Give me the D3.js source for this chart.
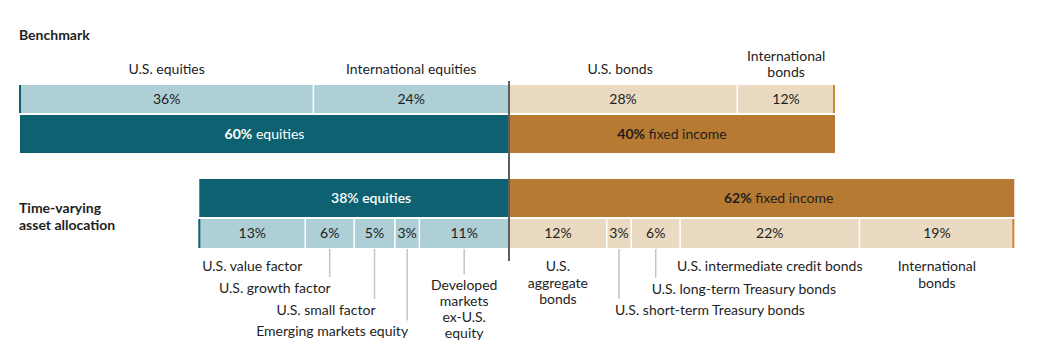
<!DOCTYPE html>
<html>
<head>
<meta charset="utf-8">
<script src="https://cdn.jsdelivr.net/npm/d3@7/dist/d3.min.js"></script>
<style>
  html, body { margin: 0; padding: 0; background: #fff; }
  svg { display: block; font-family: Lato, "Noto Sans", sans-serif; }
</style>
</head>
<body>
<svg id="chart" width="1037" height="356"></svg>
<script>
// ---------- DATA ----------
const benchCategories = ["U.S. equities", "International equities", "U.S. bonds", "International\nbonds"];
const benchValues = [36, 24, 28, 12];
const benchTypes = ["eq", "eq", "fi", "fi"];
const groupNames = ["equities", "fixed income"];
const benchGroupValues = [60, 40];
const tvaaGroupValues = [38, 62];
const tvaaCategories = [
  "U.S. value factor", "U.S. growth factor", "U.S. small factor", "Emerging markets equity",
  "Developed\nmarkets\nex-U.S.\nequity",
  "U.S.\naggregate\nbonds", "U.S. short-term Treasury bonds", "U.S. long-term Treasury bonds",
  "U.S. intermediate credit bonds", "International\nbonds"
];
const tvaaValues = [13, 6, 5, 3, 11, 12, 3, 6, 22, 19];
const tvaaTypes = ["eq", "eq", "eq", "eq", "eq", "fi", "fi", "fi", "fi", "fi"];

// ---------- LAYOUT (annotation placement only) ----------
// anchor: m = centered under segment, e = text ends at leader, s = text starts at leader
const annot = [
  {a: "m", y: 266, leader: false},
  {a: "e", y: 288, leader: true},
  {a: "e", y: 310, leader: true},
  {a: "e", y: 331.5, leader: true},
  {a: "m", y: 285.5, leader: true, lh: 16},
  {a: "m", y: 266.5, leader: false, lh: 16.5},
  {a: "s", y: 310, leader: true},
  {a: "s", y: 289, leader: true},
  {a: "m", y: 266, leader: false},
  {a: "m", y: 266.5, leader: false, lh: 16.5}
];

const C = {
  ltEq: "#aecfd6", ltFi: "#e9dac1", dkEq: "#0d6170", dkFi: "#b77a32",
  text: "#1e1e1e", divider: "#5e5e5e", leader: "#c4c4c4"
};

const svg = d3.select("#chart");
const xB = d3.scaleLinear().domain([0, 100]).range([20, 835]);
const shift = benchGroupValues[0] - tvaaGroupValues[0];
const xT = d3.scaleLinear().domain([-shift, 100 - shift]).range([20, 835]);

function cum(vals) { let s = 0; return vals.map(v => { const o = {x0: s, x1: s + v}; s += v; return o; }); }

const F = 14;

// titles
svg.append("text").attr("x", 19).attr("y", 35).attr("dy", "0.35em")
  .attr("font-size", F).attr("font-weight", 700).attr("fill", C.text).text("Benchmark");
svg.append("text").attr("x", 19).attr("y", 208).attr("dy", "0.35em")
  .attr("font-size", F).attr("font-weight", 700).attr("fill", C.text).text("Time-varying");
svg.append("text").attr("x", 19).attr("y", 225).attr("dy", "0.35em")
  .attr("font-size", F).attr("font-weight", 700).attr("fill", C.text).text("asset allocation");

function lightRow(x, vals, types, y, h) {
  const segs = cum(vals);
  const g = svg.append("g");
  segs.forEach((s, i) => {
    g.append("rect").attr("x", x(s.x0)).attr("y", y).attr("width", x(s.x1) - x(s.x0)).attr("height", h)
      .attr("fill", types[i] === "eq" ? C.ltEq : C.ltFi);
  });
  // white separators
  segs.slice(0, -1).forEach(s => {
    g.append("rect").attr("x", x(s.x1) - 0.75).attr("y", y).attr("width", 1.5).attr("height", h).attr("fill", "#fff");
  });
  // edge lines
  g.append("rect").attr("x", x(0) - 1).attr("y", y).attr("width", 2).attr("height", h).attr("fill", C.dkEq);
  const total = d3.sum(vals);
  g.append("rect").attr("x", x(total) - 2).attr("y", y).attr("width", 2).attr("height", h).attr("fill", "#c98a3c");
  segs.forEach((s, i) => {
    g.append("text").attr("x", (x(s.x0) + x(s.x1)) / 2).attr("y", y + h / 2).attr("dy", "0.35em")
      .attr("text-anchor", "middle").attr("font-size", F).attr("fill", C.text).text(vals[i] + "%");
  });
  return segs;
}

function darkRow(x, gvals, y, h, boldAll, dx) {
  const segs = cum(gvals);
  segs.forEach((s, i) => {
    svg.append("rect").attr("x", x(s.x0)).attr("y", y).attr("width", x(s.x1) - x(s.x0)).attr("height", h)
      .attr("fill", i === 0 ? C.dkEq : C.dkFi);
    const t = svg.append("text").attr("x", (x(s.x0) + x(s.x1)) / 2 + dx).attr("y", y + h / 2).attr("dy", "0.35em")
      .attr("text-anchor", "middle").attr("font-size", F).attr("fill", i === 0 ? "#fff" : C.text);
    if (boldAll && i === 0) {
      t.attr("font-weight", 600).text(gvals[i] + "% " + groupNames[i]);
    } else {
      t.append("tspan").attr("font-weight", 700).text(gvals[i] + "%");
      t.append("tspan").text(" " + groupNames[i]);
    }
  });
}

// Benchmark
const bSegs = lightRow(xB, benchValues, benchTypes, 85, 28);
darkRow(xB, benchGroupValues, 115, 38, false, 0);
bSegs.forEach((s, i) => {
  const lines = benchCategories[i].split("\n");
  const cx = (xB(s.x0) + xB(s.x1)) / 2 - (i === 2 ? 3 : 0);
  const y0 = lines.length === 1 ? 69 : 56.5;
  lines.forEach((l, j) => {
    svg.append("text").attr("x", cx).attr("y", y0 + j * 16).attr("dy", "0.35em").attr("text-anchor", "middle")
      .attr("font-size", F).attr("fill", C.text).text(l);
  });
});

// Time-varying
darkRow(xT, tvaaGroupValues, 179, 38, true, 17);
const tSegs = lightRow(xT, tvaaValues, tvaaTypes, 219, 29);
tSegs.forEach((s, i) => {
  const A = annot[i];
  const cx = (xT(s.x0) + xT(s.x1)) / 2;
  const lines = tvaaCategories[i].split("\n");
  if (A.leader) {
    svg.append("line").attr("x1", cx).attr("x2", cx).attr("y1", 249).attr("y2", A.y - 11)
      .attr("stroke", C.leader).attr("stroke-width", 1.5);
  }
  let tx = cx, anchor = "middle";
  if (A.a === "e") { tx = cx + 1; anchor = "end"; }
  if (A.a === "s") { tx = cx - 4; anchor = "start"; }
  lines.forEach((l, j) => {
    svg.append("text").attr("x", tx).attr("y", A.y + j * (A.lh || 16)).attr("dy", "0.35em")
      .attr("text-anchor", anchor).attr("font-size", F).attr("fill", C.text).text(l);
  });
});

// center divider
svg.append("line").attr("x1", xB(benchGroupValues[0])).attr("x2", xB(benchGroupValues[0]))
  .attr("y1", 81).attr("y2", 261).attr("stroke", C.divider).attr("stroke-width", 2);
</script>
</body>
</html>
